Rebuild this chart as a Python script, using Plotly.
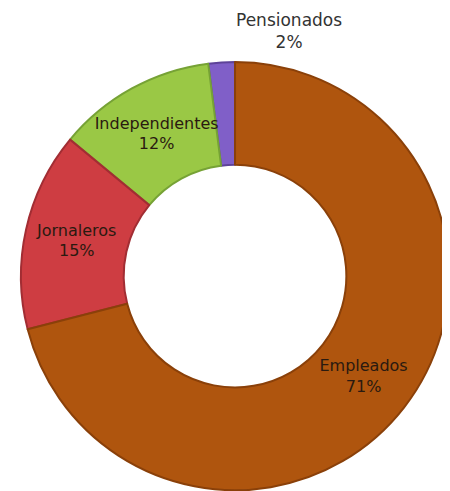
import plotly.graph_objects as go

# listed counter-clockwise from 12 o'clock
labels = ["Pensionados", "Independientes", "Jornaleros", "Empleados"]
values = [2, 12, 15, 71]
colors = ["#805FC8", "#9AC845", "#CE3D42", "#AF550E"]
line_colors = ["#5E4399", "#76A235", "#A22D33", "#8A4009"]
text_templates = [""] + ["%{label}<br>%{percent:.0%}"] * 3

total = sum(values)
outside_label = f"{labels[0]}<br>{round(100 * values[0] / total)}%"

fig = go.Figure(go.Pie(
    labels=labels,
    values=values,
    hole=0.52,
    sort=False,
    direction="counterclockwise",
    rotation=-360 * values[0] / total,
    marker=dict(colors=colors, line=dict(color=line_colors, width=2)),
    texttemplate=text_templates,
    textposition="inside",
    insidetextorientation="horizontal",
    textfont=dict(family="DejaVu Sans", size=16, color="#2a1a10"),
    domain=dict(x=[0.027, 0.982], y=[0.018, 0.890]),
    automargin=False,
    showlegend=False,
))

fig.add_annotation(
    text=outside_label, xref="paper", yref="paper",
    x=0.625, y=1.0, xanchor="center", yanchor="top",
    showarrow=False,
    font=dict(family="DejaVu Sans", size=17, color="#333333"),
)

fig.update_layout(
    width=450, height=491,
    margin=dict(l=0, r=0, t=0, b=0),
    paper_bgcolor="white",
    plot_bgcolor="white",
    uniformtext=dict(minsize=16, mode="show"),
)

fig.write_html("out.html")
